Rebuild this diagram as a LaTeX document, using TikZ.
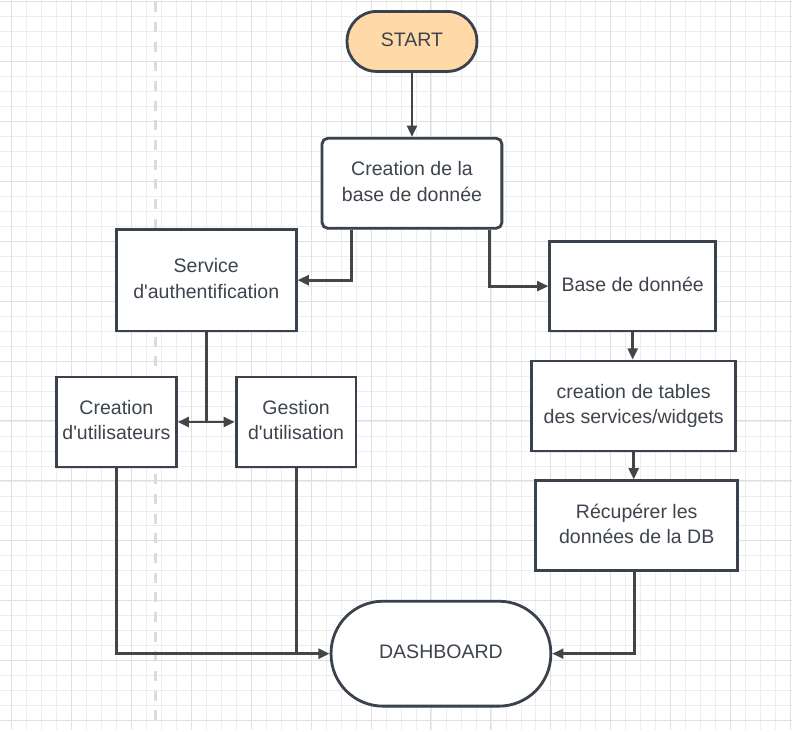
\documentclass[tikz,border=0pt]{standalone}
\usepackage{fontspec}
\setmainfont{Liberation Sans}
\usepackage{tikz}
\usetikzlibrary{arrows.meta,calc,shadows}
\definecolor{boxline}{HTML}{3A424D}
\definecolor{arrowline}{HTML}{454545}
\definecolor{boxtext}{HTML}{3E444D}
\definecolor{startfill}{HTML}{FFD9A8}
\tikzset{
    stepbox/.style={
        rectangle,
        draw=boxline,
        fill=white,
        line width=2pt,
        minimum width=45mm,
        minimum height=22.5mm,
        inner sep=2pt,
        align=center,
        text=boxtext,
        text depth=3pt,
        font=\fontsize{13.9}{18.4}\selectfont,
        drop shadow={shadow xshift=0pt, shadow yshift=-1.2pt, opacity=0.18}
    },
    startbox/.style={
        stepbox,
        fill=startfill,
        minimum width=32.5mm,
        minimum height=15mm,
        rounded corners=7.4mm
    },
    endbox/.style={
        stepbox,
        minimum width=55mm,
        minimum height=26.25mm,
        rounded corners=13mm
    },
    arrow/.style={
        -{Triangle[length=8pt,width=7pt]},
        line width=2pt,
        draw=arrowline
    },
    biarrow/.style={
        {Triangle[length=8pt,width=7pt]}-{Triangle[length=8pt,width=7pt]},
        line width=2pt,
        draw=arrowline
    },
    link/.style={
        line width=2pt,
        draw=arrowline
    },
    gridminor/.style={draw=gray!14, line width=0.5pt},
    gridmajor/.style={draw=gray!24, line width=0.7pt}
}

\begin{document}
\begin{tikzpicture}[x=0.025cm, y=-0.025cm]
    % Background grid
    \fill[white] (0,0) rectangle (792,730);
    \foreach \gx in {11,26,...,791} \draw[gridminor] (\gx,0) -- (\gx,730);
    \foreach \gy in {1,16,...,730} \draw[gridminor] (0,\gy) -- (792,\gy);
    \foreach \gx in {11,71,...,791} \draw[gridmajor] (\gx,0) -- (\gx,730);
    \foreach \gy in {1,61,...,730} \draw[gridmajor] (0,\gy) -- (792,\gy);
    \draw[gray!28, line width=2.5pt, dash pattern=on 7pt off 7pt] (155,2) -- (155,730);

    % Main flow
    \node[startbox] (start) at (412,41) {START};
    \node[stepbox, rounded corners=4pt] (createdb) at (412,183) {Creation de la\\base de donnée};

    % Left branch
    \node[stepbox, minimum height=25.5mm] (auth) at (206,280) {Service\\d\textquotesingle authentification};
    \node[stepbox, minimum width=30mm] (users) at (116,422) {Creation\\d\textquotesingle utilisateurs};
    \node[stepbox, minimum width=30mm] (usage) at (296,422) {Gestion\\d\textquotesingle utilisation};

    % Right branch
    \node[stepbox, minimum width=41.5mm] (basedb) at (633,286) {Base de donnée};
    \node[stepbox, minimum width=51mm] (tables) at (634,406) {creation de tables\\des services/widgets};
    \node[stepbox, minimum width=50.5mm] (fetch) at (637,526) {Récupérer les\\données de la DB};

    \node[endbox] (dashboard) at (441,654) {DASHBOARD};

    % --- Connectors ---
    \draw[arrow] (start) -- (createdb);
    \draw[arrow] ($(createdb.south west)+(31,0)$) |- (auth.east);
    \draw[arrow] ($(createdb.south east)+(-14,0)$) |- (basedb.west);

    \draw[arrow] (basedb.south) -- (basedb.south |- tables.north);
    \draw[arrow] (tables.south) -- (tables.south |- fetch.north);
    \draw[arrow] ($(fetch.south west)+(100,0)$) |- (dashboard.east);

    \coordinate (authJunction) at (auth.south |- users.east);
    \draw[link] (auth.south) -- (authJunction);
    \draw[biarrow] (users.east) -- (usage.west);

    \draw[arrow] (users.south) |- (dashboard.west);
    \draw[link] (usage.south) -- (usage.south |- dashboard.west);

    \useasboundingbox (0,0) rectangle (792,730);
\end{tikzpicture}
\end{document}
